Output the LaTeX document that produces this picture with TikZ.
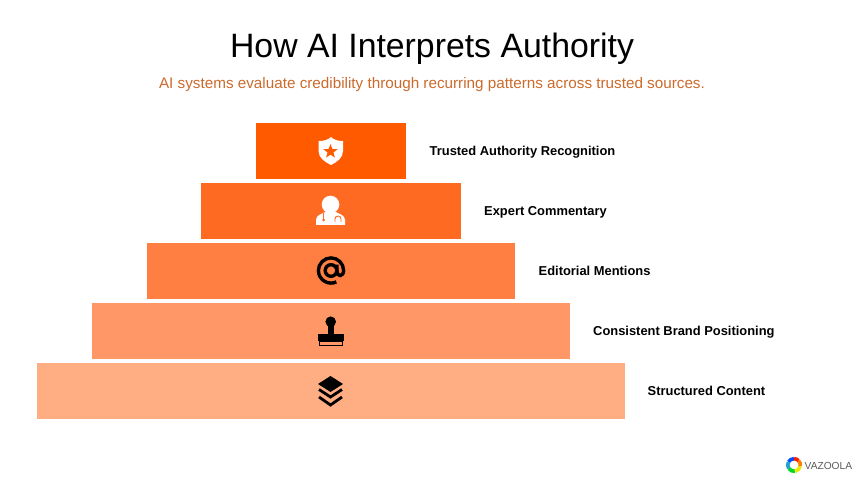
\documentclass[tikz,border=0pt]{standalone}
\usepackage{fontspec}
\setmainfont{Liberation Sans}
\usetikzlibrary{shapes.geometric, positioning}
\definecolor{tierA}{HTML}{FF5A00}
\definecolor{tierB}{HTML}{FF6A22}
\definecolor{tierC}{HTML}{FF7E42}
\definecolor{tierD}{HTML}{FF9766}
\definecolor{tierE}{HTML}{FFAD82}
\definecolor{subtext}{HTML}{CC6A2C}
\tikzset{
	tier/.style={inner sep=0pt, minimum height=56pt},
	tierlabel/.style={inner sep=0pt, anchor=base west, font=\fontsize{12.9}{15}\selectfont\bfseries},
	ringpart/.style={line width=3.6pt}
}
\begin{document}
\begin{tikzpicture}[x=1pt,y=-1pt]
		\useasboundingbox (0,0) rectangle (864,486);
		\draw (432,57.5) node[inner sep=0pt, anchor=base, font=\fontsize{33.8}{40}\selectfont] (title) {How AI Interprets Authority}
		(432,89) node[inner sep=0pt, anchor=base, text=subtext, font=\fontsize{15.25}{18}\selectfont] (subtitle) {AI systems evaluate credibility through recurring patterns across trusted sources.};

		\draw (331,151) node[tier, fill=tierA, minimum width=150pt] (t1) {}
		(331,211) node[tier, fill=tierB, minimum width=260pt] (t2) {}
		(331,271) node[tier, fill=tierC, minimum width=368pt] (t3) {}
		(331,331) node[tier, fill=tierD, minimum width=478pt] (t4) {}
		(331,391) node[tier, fill=tierE, minimum width=588pt] (t5) {};

		\draw (429.5,155.5) node[tierlabel] (l1) {Trusted Authority Recognition}
		(484,215.5) node[tierlabel] (l2) {Expert Commentary}
		(538.5,275.5) node[tierlabel] (l3) {Editorial Mentions}
		(593,335.5) node[tierlabel] (l4) {Consistent Brand Positioning}
		(647.5,395.5) node[tierlabel] (l5) {Structured Content};

		% shield
		\fill[white] (318.5,141) .. controls (324,141) and (328,140) .. (331,137) .. controls (334,140) and (338,141) .. (343,141)
		-- (343,151) .. controls (343,158) and (337,162) .. (331,165) .. controls (325,162) and (318.5,158) .. (318.5,151) -- cycle;
		\node[star, star points=5, star point ratio=2.4, fill=tierA, inner sep=0pt, minimum size=15pt] (shieldstar) at (330.5,151.5) {};

		% expert
		\fill[white] (330.5,204.5) circle (8.8);
		\fill[white] (316,225) -- (316,220) .. controls (316,215) and (322,214) .. (325,212) -- (336,212) .. controls (339,214) and (345,215) .. (345,220) -- (345,225) -- cycle;
		\draw[tierB, line width=0.9pt] (335,222) -- (335,219) .. controls (335,215) and (341,215) .. (341,219) -- (341,222);
		\draw[tierB, line width=0.9pt] (323.5,213) -- (323.5,219);
		\fill[tierB] (323.5,220) circle (1.5);

		% at sign
		\begin{scope}[shift={(331,270.5)}, y=1pt]
			\draw[black, line width=3.4pt] (0,0) circle (5.8);
			\draw[black, line width=3.4pt] (6,6) -- (6,-1) .. controls (6,-6.5) and (12.6,-6.5) .. (12.6,0) arc (0:295:12.6);
		\end{scope}

		% stamp
		\fill[black] (330.7,321.7) circle (5.3);
		\fill[black] (328,324) rectangle (333.6,335);
		\fill[black] (318,334) rectangle (343.5,341);
		\draw[black, line width=0.9pt] (319,341) rectangle (342.5,345);

		% stacked layers
		\fill[black] (318,384) -- (330.5,376) -- (343,384) -- (330.5,392) -- cycle;
		\draw[black, line width=2.8pt] (319,389.5) -- (330.5,397) -- (342,389.5);
		\draw[black, line width=2.8pt] (319,397) -- (330.5,405) -- (342,397);

		% logo
		\begin{scope}[shift={(794,465)}, y=1pt]
			\foreach \from/\to/\partcol in {90/150/blue!70!cyan, 150/215/cyan!70!teal, 215/280/green!70!teal, 280/350/yellow!90!green, 350/405/orange, 405/450/red!75!orange}
				\draw[ringpart, \partcol] (\from:6.3) arc (\from:\to:6.3);
		\end{scope}
		\draw (804.5,469) node[inner sep=0pt, anchor=base west, text=black!65, font=\fontsize{10.2}{12}\selectfont] (logo) {VAZOOLA};
	\end{tikzpicture}
\end{document}
